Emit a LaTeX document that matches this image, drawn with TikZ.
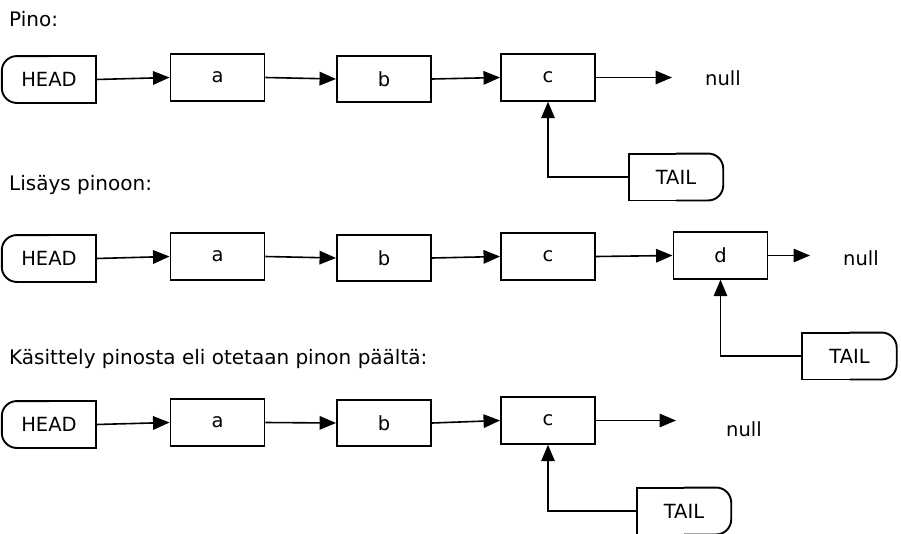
\documentclass[tikz,border=0pt]{standalone}
\usepackage{fontspec}
\setmainfont{DejaVu Sans}
\usetikzlibrary{arrows.meta}
\begin{document}
\begin{tikzpicture}[x=1pt,y=-1pt,
  every node/.style={font=\fontsize{19.5}{23}\selectfont, inner sep=0pt},
  cell/.style={draw, line width=1.9pt, minimum width=94pt, minimum height=46.5pt},
  endp/.style={minimum width=94pt, minimum height=46.5pt},
  link/.style={line width=1.6pt, -{Triangle[length=16.5pt,width=13.5pt]}},
  lbl/.style={anchor=base west, font=\fontsize{20}{24}\selectfont},
  outline/.style={line width=1.9pt}]
\useasboundingbox (0,0) rectangle (901,533);

% ---------- Row 1 ----------
\node[lbl] (l1) at (9,26) {Pino:};
\node[endp] (h1) at (49,79.5) {HEAD};
\draw[outline, rounded corners=15pt] (h1.north) -- (h1.north west) -- (h1.south west) -- (h1.south);
\draw[outline] (h1.north) -- (h1.north east) -- (h1.south east) -- (h1.south);
\node[cell] (a1) at (217.5,77.5) {a};
\node[cell] (b1) at (384,79) {b};
\node[cell] (c1) at (548,77.5) {c};
\coordinate (n1) at (672,77.5);
\node (null1) at (723,78) {null};
\node[endp] (t1) at (676,177) {TAIL};
\draw[outline, rounded corners=15pt] (t1.north) -- (t1.north east) -- (t1.south east) -- (t1.south);
\draw[outline] (t1.north) -- (t1.north west) -- (t1.south west) -- (t1.south);
\draw[link] (h1.east) -- (a1.west);
\draw[link] (a1.east) -- (b1.west);
\draw[link] (b1.east) -- (c1.west);
\draw[link] (c1.east) -- (n1);
\draw[link] (t1.west) -| (c1.south);

% ---------- Row 2 ----------
\node[lbl] (l2) at (9,190) {Lisäys pinoon:};
\node[endp] (h2) at (49,258.5) {HEAD};
\draw[outline, rounded corners=15pt] (h2.north) -- (h2.north west) -- (h2.south west) -- (h2.south);
\draw[outline] (h2.north) -- (h2.north east) -- (h2.south east) -- (h2.south);
\node[cell] (a2) at (217.5,256.5) {a};
\node[cell] (b2) at (384,258) {b};
\node[cell] (c2) at (548,256.5) {c};
\node[cell] (d2) at (720.5,255.5) {d};
\coordinate (n2) at (810,255.5);
\node (null2) at (861,258) {null};
\node[endp] (t2) at (849.5,356) {TAIL};
\draw[outline, rounded corners=15pt] (t2.north) -- (t2.north east) -- (t2.south east) -- (t2.south);
\draw[outline] (t2.north) -- (t2.north west) -- (t2.south west) -- (t2.south);
\draw[link] (h2.east) -- (a2.west);
\draw[link] (a2.east) -- (b2.west);
\draw[link] (b2.east) -- (c2.west);
\draw[link] (c2.east) -- (d2.west);
\draw[link] (d2.east) -- (n2);
\draw[link] (t2.west) -| (d2.south);

% ---------- Row 3 ----------
\node[lbl] (l3) at (9,364) {Käsittely pinosta eli otetaan pinon päältä:};
\node[endp] (h3) at (49,424.5) {HEAD};
\draw[outline, rounded corners=15pt] (h3.north) -- (h3.north west) -- (h3.south west) -- (h3.south);
\draw[outline] (h3.north) -- (h3.north east) -- (h3.south east) -- (h3.south);
\node[cell] (a3) at (217.5,422.5) {a};
\node[cell] (b3) at (384,423) {b};
\node[cell] (c3) at (548,420.5) {c};
\coordinate (n3) at (676,420.5);
\node (null3) at (744,429) {null};
\node[endp] (t3) at (684,511) {TAIL};
\draw[outline, rounded corners=15pt] (t3.north) -- (t3.north east) -- (t3.south east) -- (t3.south);
\draw[outline] (t3.north) -- (t3.north west) -- (t3.south west) -- (t3.south);
\draw[link] (h3.east) -- (a3.west);
\draw[link] (a3.east) -- (b3.west);
\draw[link] (b3.east) -- (c3.west);
\draw[link] (c3.east) -- (n3);
\draw[link] (t3.west) -| (c3.south);
\end{tikzpicture}
\end{document}
